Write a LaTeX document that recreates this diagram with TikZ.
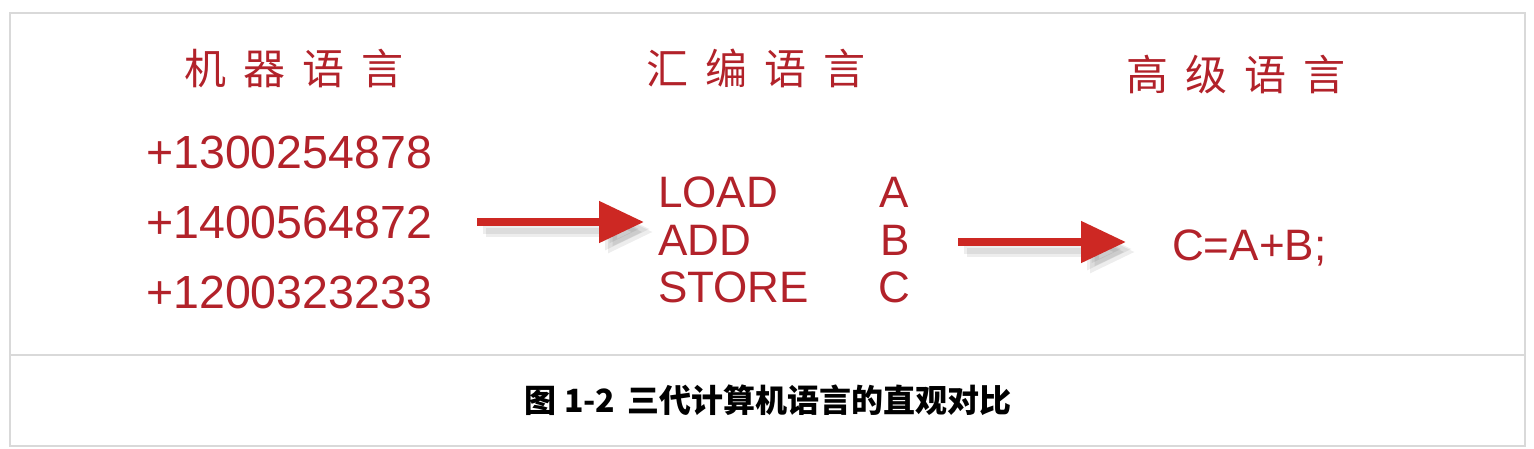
\documentclass[tikz,border=0pt]{standalone}
\usepackage{fontspec}
\setmainfont{Liberation Sans}
\newfontfamily\cjk{Noto Sans CJK SC}
\usetikzlibrary{arrows.meta}
\definecolor{txtred}{RGB}{178,34,42}
\definecolor{arrred}{RGB}{205,40,35}
\begin{document}
\begin{tikzpicture}[x=1pt,y=-1pt,
  redtxt/.style={text=txtred, inner sep=0pt, font=\fontsize{44}{44}\selectfont},
  numtxt/.style={text=txtred, inner sep=0pt, font=\fontsize{46.5}{46.5}\selectfont},
  headtxt/.style={text=txtred, inner sep=0pt, font=\cjk\fontsize{42}{42}\selectfont},
  bigarrow/.style={draw=arrred, line width=8pt, -{Triangle[length=45pt,width=40pt]}},
  shadowarrow/.style={draw=black, draw opacity=0.07, fill opacity=0.07, line width=9pt, -{Triangle[length=45pt,width=40pt]}},
  frameline/.style={draw=black!15, line width=1.5pt}]
\useasboundingbox[fill=white] (0,0) rectangle (1534,448);
\draw[frameline] (10,13) rectangle (1525,446);
\draw[frameline] (10,355) -- (1525,355);
% headings
\node[headtxt] (h1) at (294,68) {机\hspace{17pt}器\hspace{17pt}语\hspace{17pt}言};
\node[headtxt] (h2) at (756,68) {汇\hspace{17pt}编\hspace{17pt}语\hspace{17pt}言};
\node[headtxt] (h3) at (1236,75) {高\hspace{17pt}级\hspace{17pt}语\hspace{17pt}言};
% machine language
\node[numtxt, anchor=west] (m1) at (146,152) {+1300254878};
\node[numtxt, anchor=west] (m2) at (146,222) {+1400564872};
\node[numtxt, anchor=west] (m3) at (146,292) {+1200323233};
% assembly
\node[redtxt, anchor=west] (s1) at (658,192) {LOAD};
\node[redtxt, anchor=west] (s2) at (658,240) {ADD};
\node[redtxt, anchor=west] (s3) at (658,287) {STORE};
\node[redtxt] (r1) at (894,192) {A};
\node[redtxt] (r2) at (895,240) {B};
\node[redtxt] (r3) at (894,287) {C};
% high level
\node[redtxt, anchor=base west] (hl) at (1172,260) {C=A+B;};
% arrows
\coordinate (a1s) at (477,222);
\coordinate (a1e) at (644,222);
\coordinate (a2s) at (958,242);
\coordinate (a2e) at (1126,242);
\coordinate (a1ss) at (486,232);
\coordinate (a1es) at (653,232);
\coordinate (a2ss) at (967,252);
\coordinate (a2es) at (1135,252);
\coordinate (a1st) at (483,229);
\coordinate (a1et) at (650,229);
\coordinate (a2st) at (964,249);
\coordinate (a2et) at (1132,249);
\draw[shadowarrow] (a1ss) -- (a1es);
\draw[shadowarrow] (a2ss) -- (a2es);
\draw[shadowarrow] (a1st) -- (a1et);
\draw[shadowarrow] (a2st) -- (a2et);
\draw[bigarrow] (a1s) -- (a1e);
\draw[bigarrow] (a2s) -- (a2e);
% caption
\node[inner sep=0pt, font=\cjk\bfseries\fontsize{32}{32}\selectfont] (cap) at (768,400) {图 1-2\hspace{12pt}三代计算机语言的直观对比};
\end{tikzpicture}
\end{document}
